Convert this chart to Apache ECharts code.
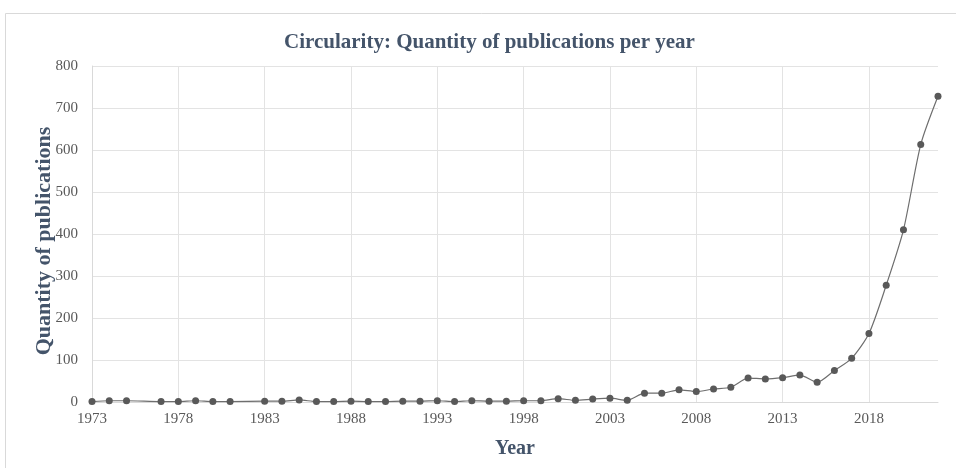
<!DOCTYPE html>
<html><head><meta charset="utf-8">
<script src="https://cdn.jsdelivr.net/npm/echarts@6/dist/echarts.min.js"></script>
<style>html,body{margin:0;padding:0;background:#fff}#c{width:956px;height:468px}</style>
</head><body><div id="c"></div>
<script>
var years = [1973,1974,1975,1977,1978,1979,1980,1981,1983,1984,1985,1986,1987,1988,1989,1990,1991,1992,1993,1994,1995,1996,1997,1998,1999,2000,2001,2002,2003,2004,2005,2006,2007,2008,2009,2010,2011,2012,2013,2014,2015,2016,2017,2018,2019,2020,2021,2022];
var counts = [1,3,3,1,1,3,1,1,2,2,5,1,1,2,1,1,2,2,3,1,3,2,2,3,3,8,4,7,9,4,21,21,29,25,31,35,57,55,58,64,47,75,104,163,278,410,613,728];
var yTicks = [0,100,200,300,400,500,600,700,800];

var chart = echarts.init(document.getElementById('c'));
var serif = '"Liberation Serif","Times New Roman",serif';
chart.setOption({
  animation:false,
  graphic:[{type:'rect',shape:{x:5.5,y:13.5,width:1000,height:500},style:{fill:'none',stroke:'#d9d9d9',lineWidth:1},silent:true}],
  title:{text:'Circularity: Quantity of publications per year',left:279,top:27,
    textStyle:{fontFamily:serif,fontSize:21,fontWeight:'bold',color:'#44546A'}},
  grid:{left:92,right:18,top:66,bottom:66},
  xAxis:{type:'value',min:years[0],max:years[years.length-1],interval:5,
    name:'Year',nameLocation:'middle',nameGap:37,nameMoveOverlap:false,
    nameTextStyle:{fontFamily:serif,fontSize:20,fontWeight:'bold',color:'#44546A'},
    axisLine:{show:true,onZero:false,lineStyle:{color:'#d9d9d9'}},axisTick:{show:false},
    axisLabel:{fontFamily:serif,fontSize:15,color:'#595959',margin:10,showMaxLabel:false,formatter:function(v){return String(v);}},
    splitLine:{show:true,lineStyle:{color:['#e3e3e3','#e3e3e3','#e3e3e3','#e3e3e3','#e3e3e3','#e3e3e3','#e3e3e3','#e3e3e3','#e3e3e3','#e3e3e3','rgba(0,0,0,0)'],width:1}}},
  yAxis:{type:'value',min:yTicks[0],max:yTicks[yTicks.length-1],interval:100,
    name:'Quantity of publications',nameLocation:'middle',nameGap:37,nameMoveOverlap:false,
    nameTextStyle:{fontFamily:serif,fontSize:22,fontWeight:'bold',color:'#44546A',padding:[0,0,0,-14]},
    axisLine:{show:true,lineStyle:{color:'#d9d9d9'}},axisTick:{show:false},
    axisLabel:{fontFamily:serif,fontSize:15,color:'#595959',margin:14},
    splitLine:{show:true,lineStyle:{color:'#e3e3e3',width:1}}},
  series:[{type:'line',data:years.map(function(y,i){return [y,counts[i]];}),
    smooth:0.25,symbol:'circle',symbolSize:7,
    lineStyle:{color:'#6e6e6e',width:1.2},
    itemStyle:{color:'#595959'}}]
});
</script></body></html>
